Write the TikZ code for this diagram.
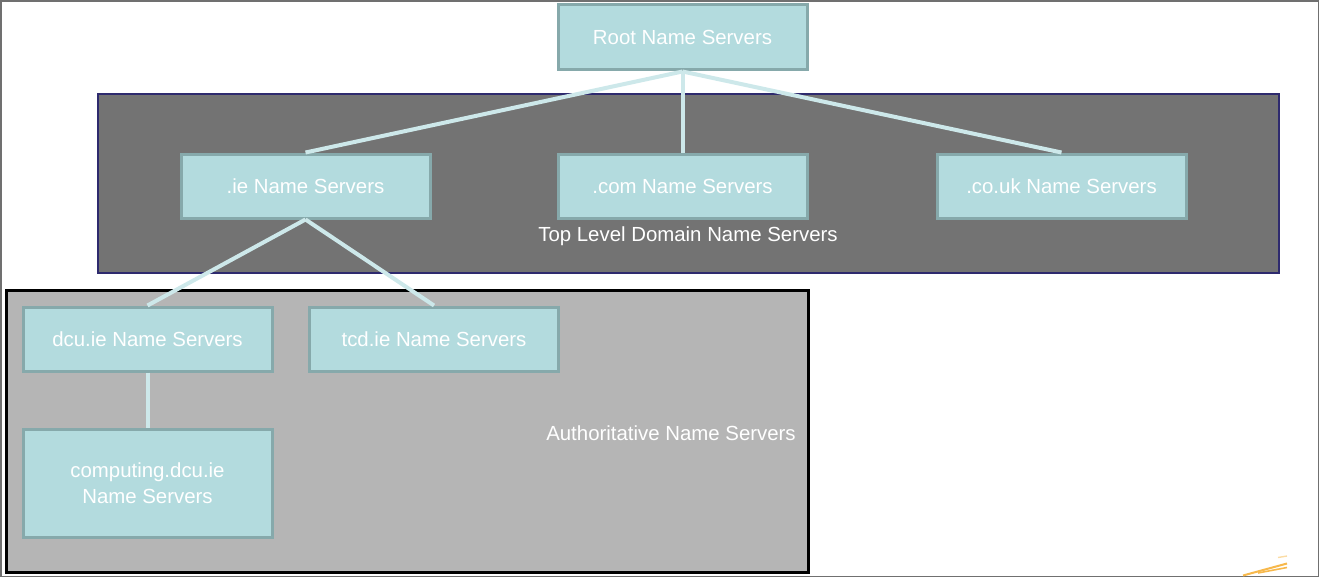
\documentclass[tikz,border=0pt]{standalone}
\usepackage{fontspec}
\setmainfont{Liberation Sans}
\definecolor{nodefill}{HTML}{B3DBDE}
\definecolor{nodeborder}{HTML}{86A9AB}
\definecolor{linkcol}{HTML}{CDE8EA}
\definecolor{tldfill}{HTML}{737373}
\definecolor{tldborder}{HTML}{2E2A6E}
\definecolor{authfill}{HTML}{B5B5B5}
\definecolor{framecol}{HTML}{707070}
\definecolor{swoosh}{HTML}{F7B84B}
\tikzset{
  server/.style={draw=nodeborder, fill=nodefill, line width=3pt, minimum width=249pt, minimum height=64pt, inner sep=0pt, text=white, font=\fontsize{20.4}{26}\selectfont, align=center},
  link/.style={draw=linkcol, line width=4pt},
  grouplabel/.style={text=white, font=\fontsize{20.4}{26}\selectfont, inner sep=0pt}
}
\begin{document}
\begin{tikzpicture}[x=1pt,y=-1pt]
\useasboundingbox (0,0) rectangle (1320,578);
\draw[framecol, line width=1.5pt] (1,1) rectangle (1318.5,576.5);
% group boxes
\draw[fill=tldfill, draw=tldborder, line width=2.5pt] (98,94) rectangle (1279,273);
\draw[fill=authfill, draw=black, line width=3pt] (6,290) rectangle (808,572);
\node[grouplabel] (tldlabel) at (688,236) {Top Level Domain Name Servers};
\node[grouplabel] (authlabel) at (671,433) {Authoritative Name Servers};
% servers
\node[server, minimum height=65pt] (root) at (682.5,37.5) {Root Name Servers};
\node[server] (ie) at (305.5,186) {.ie Name Servers};
\node[server] (com) at (682.5,186) {.com Name Servers};
\node[server] (couk) at (1061.5,186) {.co.uk Name Servers};
\node[server] (dcu) at (147.5,339) {dcu.ie Name Servers};
\node[server] (tcd) at (434,339) {tcd.ie Name Servers};
\node[server, minimum height=108pt] (comp) at (147.5,483.5) {computing.dcu.ie\\Name Servers};
% links
\draw[link] (root.south) -- (ie.north);
\draw[link] (root.south) -- (com.north);
\draw[link] (root.south) -- (couk.north);
\draw[link] (ie.south) -- (dcu.north);
\draw[link] (ie.south) -- (tcd.north);
\draw[link] (dcu.south) -- (comp.north);
% decorative swoosh
\coordinate (s1a) at (1243,575.5);
\coordinate (s1b) at (1287,563.5);
\coordinate (s2a) at (1258,573);
\coordinate (s2b) at (1287,567.5);
\coordinate (s3a) at (1278,557.5);
\coordinate (s3b) at (1287,556);
\draw[swoosh, line width=2pt] (s1a) -- (s1b);
\draw[swoosh, line width=1.6pt] (s2a) -- (s2b);
\draw[swoosh!50, line width=1.4pt] (s3a) -- (s3b);
\end{tikzpicture}
\end{document}
